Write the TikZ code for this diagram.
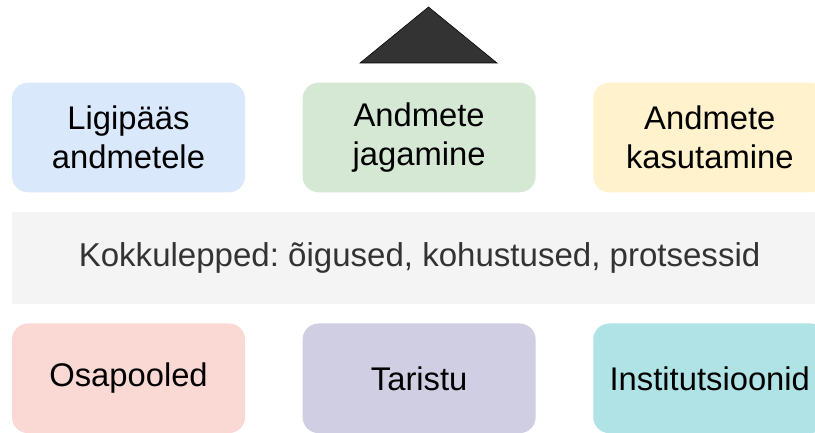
\documentclass[tikz,border=0pt]{standalone}
\usepackage{fontspec}
\setmainfont{Liberation Sans}
\usetikzlibrary{positioning}
\frenchspacing

\definecolor{accessblue}{HTML}{DAE8FC}
\definecolor{sharegreen}{HTML}{D5E8D4}
\definecolor{useyellow}{HTML}{FFF2CC}
\definecolor{partyred}{HTML}{FAD9D5}
\definecolor{infrapurple}{HTML}{D0CEE2}
\definecolor{instteal}{HTML}{B0E3E6}
\definecolor{bandgray}{HTML}{F4F4F4}
\definecolor{roofgray}{HTML}{333333}

\tikzset{
  blockbox/.style={rounded corners=0.4cm, minimum width=5.825cm,
    minimum height=2.74cm, inner sep=0pt, align=center,
    font=\fontsize{23.3}{28}\selectfont},
  bandbox/.style={minimum width=20.375cm, minimum height=2.3cm,
    inner sep=0pt, fill=bandgray, text=roofgray,
    font=\fontsize{23.5}{28}\selectfont},
}

\begin{document}
\begin{tikzpicture}[x=0.025cm,y=-0.025cm]

  % page frame
  \useasboundingbox (0,0) rectangle (815,433);
  \clip (0,0) rectangle (815,433);

  % roof
  \draw [fill=roofgray,line join=miter] (360,63) -- (428.5,7) -- (497,63) -- cycle;

  % top row
  \node [blockbox,fill=accessblue] (ligi) at (128.5,137.5) {Ligipääs\\andmetele};
  \node [blockbox,fill=sharegreen,right=1.425cm of ligi] (jaga) {Andmete\\jagamine};
  \node [blockbox,fill=useyellow,right=1.425cm of jaga] (kasu) {Andmete\\kasutamine};

  % agreements band
  \node [bandbox,below=0.475cm of ligi.south west,anchor=north west] (lepe)
    {Kokkulepped: õigused, kohustused, protsessid};

  % bottom row
  \node [blockbox,fill=partyred,below=0.475cm of lepe.south west,anchor=north west] (osa) {Osapooled};
  \node [blockbox,fill=infrapurple,right=1.425cm of osa] (tari) {Taristu};
  \node [blockbox,fill=instteal,right=1.425cm of tari] (inst) {Institutsioonid};

\end{tikzpicture}
\end{document}
